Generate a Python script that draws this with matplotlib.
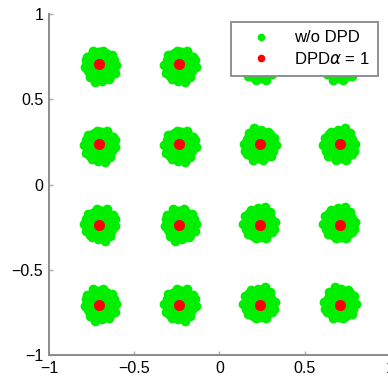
import numpy as np
import matplotlib.pyplot as plt

plt.rcParams['font.family'] = ['Liberation Sans', 'DejaVu Sans']
plt.rcParams['axes.unicode_minus'] = True

# 16-QAM symbol levels (I and Q)
levels = [-0.707, -0.236, 0.236, 0.707]

# w/o DPD: received cloud centres
wo_dpd_i = [-0.70, -0.23, 0.235, 0.705] * 4
wo_dpd_q = [0.70] * 4 + [0.23] * 4 + [-0.23] * 4 + [-0.70] * 4
# bumps along the cloud rim (offsets, data units)
rim_dx = [0.08, 0.085, 0.05, 0.01, -0.06, -0.09, -0.075, -0.04, 0.02, 0.07, -0.03, 0.095, 0.06, -0.085]
rim_dy = [0.03, -0.045, -0.08, -0.09, -0.07, -0.01, 0.05, 0.085, 0.085, 0.06, -0.10, 0.00, -0.065, 0.03]

# DPD alpha = 1: compact points at the ideal symbols
dpd_i = [levels[k % 4] for k in range(16)]
dpd_q = [levels[3 - k // 4] for k in range(16)]

fig = plt.figure(figsize=(3.88, 3.83), dpi=100)
ax = fig.add_axes([0.126, 0.073, 0.879, 0.890])

green = '#00ee00'
red = '#ff0000'

ax.plot(wo_dpd_i, wo_dpd_q, 'o', color=green, markersize=26, mec='none', zorder=1)
for k in range(16):
    sx = 1 if k % 3 == 0 else -1
    sy = 1 if (k // 2) % 2 == 0 else -1
    ax.plot(np.array(wo_dpd_i[k]) + sx * np.array(rim_dx),
            np.array(wo_dpd_q[k]) + sy * np.array(rim_dy),
            'o', color=green, markersize=7, mec='none', zorder=1)
ax.plot(dpd_i, dpd_q, 'o', color=red, markersize=8, mec='none', zorder=3)

# legend proxies (small markers like the original)
h_wo, = ax.plot([], [], 'o', color=green, markersize=5.5, mec='none')
h_dpd, = ax.plot([], [], 'o', color=red, markersize=5.5, mec='none')

ax.set_xlim(-1, 1)
ax.set_ylim(-1, 1)
ax.set_xticks([-1, -0.5, 0, 0.5, 1])
ax.set_yticks([-1, -0.5, 0, 0.5, 1])
ax.set_xticklabels(['\u22121', '\u22120.5', '0', '0.5', '1'])
ax.set_yticklabels(['\u22121', '\u22120.5', '0', '0.5', '1'])
for s in ['top', 'right']:
    ax.spines[s].set_visible(False)
for s in ['left', 'bottom']:
    ax.spines[s].set_color('#8c8c8c')
    ax.spines[s].set_linewidth(1.4)
ax.tick_params(direction='in', length=3, width=1, color='#aaaaaa',
               labelsize=11.5, pad=4)

leg = ax.legend([h_wo, h_dpd], ['w/o DPD', r'DPD$\alpha$ = 1'],
                loc='upper right', bbox_to_anchor=(0.965, 0.977), borderaxespad=0,
                fontsize=12, fancybox=False, edgecolor='#888888', framealpha=1,
                handletextpad=0.7, borderpad=0.5, labelspacing=0.35, handlelength=2.6)
leg.get_frame().set_linewidth(1.3)

fig.savefig('out.png', dpi=100)
